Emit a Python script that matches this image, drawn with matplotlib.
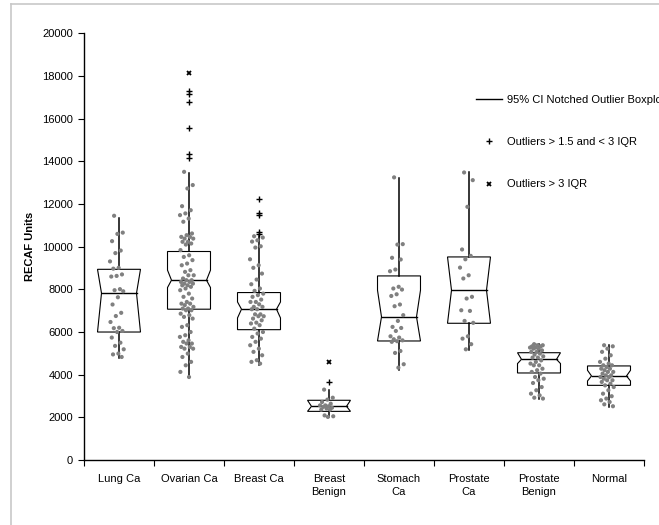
import matplotlib
matplotlib.use("Agg")
import matplotlib.pyplot as plt
from matplotlib.lines import Line2D
from matplotlib.patches import Polygon
import numpy as np

plt.rcParams['font.family'] = ['Liberation Sans', 'DejaVu Sans']

categories = ["Lung Ca", "Ovarian Ca", "Breast Ca", "Breast\nBenign", "Stomach\nCa",
              "Prostate\nCa", "Prostate\nBenign", "Normal"]

# box statistics
q1 = [6000, 7070, 6110, 2280, 5580, 6410, 4080, 3500]
median = [7820, 8430, 7070, 2515, 6710, 7960, 4720, 3940]
q3 = [8940, 9775, 7850, 2800, 8630, 9520, 5030, 4410]
notch_lo = [6000, 8085, 6660, 2280, 5580, 6410, 4520, 3705]
notch_hi = [8940, 8900, 7410, 2800, 7960, 9520, 5030, 4205]
whisker_lo = [4770, 3850, 4470, 2020, 4240, 5150, 2850, 2490]
whisker_hi = [11350, 13460, 10490, 3300, 13200, 13480, 5430, 5380]

# outliers
mild_outliers = [[], [14140, 14330, 15550, 16770, 17140, 17310],
                 [10590, 10670, 11480, 11600, 12230], [3650], [], [], [], []]
extreme_outliers = [[], [18150], [], [4580], [], [], [], []]

# individual points
lung = [11450, 10660, 10600, 10260, 9820, 9700, 9310, 9010, 8970, 8700, 8630, 8600,
        8010, 7960, 7910, 7630, 7290, 6900, 6750, 6470, 6200, 6180, 6050, 6000,
        5740, 5500, 5350, 5190, 4990, 4950, 4830]
ovarian = [13510, 12890, 12730, 11900, 11710, 11560, 11480, 11320, 11170, 10620,
           10540, 10460, 10460, 10380, 10380, 10230, 10230, 10150, 10100, 9840, 9600,
           9520, 9370, 9210, 9130, 8900, 8820, 8660, 8660, 8510, 8430, 8430, 8350,
           8350, 8270, 8270, 8190, 8190, 8120, 8040, 7960, 7800, 7650, 7570, 7410,
           7330, 7330, 7260, 7180, 7100, 7100, 7020, 7020, 6860, 6790, 6710, 6630,
           6320, 6240, 6000, 5850, 5770, 5610, 5540, 5460, 5460, 5300, 5300, 5220,
           5220, 4990, 4830, 4600, 4440, 4130, 3890]
breast_ca = [10490, 10430, 10300, 10240, 10020, 9960, 9410, 9130, 9010, 8740, 8460,
             8240, 8040, 7930, 7800, 7730, 7650, 7520, 7410, 7410, 7300, 7180, 7180,
             7070, 7070, 6830, 6830, 6740, 6740, 6630, 6550, 6440, 6400, 6320, 6160,
             6000, 5930, 5770, 5690, 5540, 5380, 5220, 5070, 4910, 4680, 4600, 4520]
breast_benign = [3300, 2920, 2830, 2720, 2640, 2560, 2560, 2520, 2490, 2450, 2410,
                 2360, 2360, 2090, 2050, 2020]
stomach = [13250, 10120, 10100, 9480, 9400, 8930, 8850, 8120, 8040, 7990, 7770, 7690,
           7290, 7210, 6790, 6520, 6240, 6190, 6050, 5800, 5740, 5660, 5610, 5570,
           5540, 5110, 5020, 4490, 4330]
prostate_ca = [13480, 13120, 11870, 9870, 9570, 9410, 9020, 8660, 8510, 7650, 7570,
               7020, 6990, 6520, 6430, 5800, 5690, 5430, 5190]
prostate_benign = [5430, 5380, 5380, 5330, 5330, 5270, 5270, 5220, 5220, 5140, 5070,
                   5070, 4990, 4940, 4860, 4800, 4800, 4670, 4600, 4520, 4440, 4440,
                   4280, 4210, 4130, 4050, 3890, 3810, 3740, 3610, 3420, 3270, 3110,
                   3030, 2920, 2880]
normal = [5380, 5330, 5220, 5070, 4910, 4750, 4600, 4520, 4440, 4440, 4360, 4280,
          4280, 4210, 4130, 4130, 4050, 3970, 3970, 3890, 3890, 3810, 3740, 3740,
          3660, 3580, 3500, 3420, 3270, 3110, 2990, 2880, 2800, 2720, 2610, 2520]
points = [lung, ovarian, breast_ca, breast_benign, stomach, prostate_ca,
          prostate_benign, normal]

yticks = [0, 2000, 4000, 6000, 8000, 10000, 12000, 14000, 16000, 18000, 20000]

W, H = 659, 525
fig = plt.figure(figsize=(W / 100, H / 100), dpi=100)
ax = fig.add_axes([84 / W, (H - 460) / H, 560 / W, (460 - 33.4) / H])

hw = 0.307   # box half width
nw = 0.25    # notch half width
for i in range(len(categories)):
    x = i + 1
    lo = max(q1[i], notch_lo[i])
    hi = min(q3[i], notch_hi[i])
    verts = [(x + hw, q1[i]), (x + hw, lo), (x + nw, median[i]), (x + hw, hi),
             (x + hw, q3[i]), (x - hw, q3[i]), (x - hw, hi), (x - nw, median[i]),
             (x - hw, lo), (x - hw, q1[i])]
    ax.add_patch(Polygon(verts, closed=True, fill=False, edgecolor='black',
                         linewidth=0.8, zorder=2))
    ax.plot([x - nw, x + nw], [median[i], median[i]], color='black', lw=1.0, zorder=2)
    ax.plot([x, x], [q3[i], whisker_hi[i]], color='black', lw=1.1, zorder=2)
    ax.plot([x, x], [whisker_lo[i], q1[i]], color='black', lw=1.1, zorder=2)
    if mild_outliers[i]:
        ax.plot([x] * len(mild_outliers[i]), mild_outliers[i], linestyle='none',
                marker='+', color='black', markersize=4, mew=1.0, zorder=3)
    if extreme_outliers[i]:
        ax.plot([x] * len(extreme_outliers[i]), extreme_outliers[i], linestyle='none',
                marker='x', color='black', markersize=3.5, mew=1.3, zorder=3)
    vals = points[i]
    n = len(vals)
    jitter = np.array([((k * 0.618034 + 0.3) % 1.0) for k in range(n)]) * 0.2 - 0.13
    ax.scatter(x + jitter, vals, s=9, color='#808080', edgecolors='none', zorder=4)

ax.set_xlim(0.5, len(categories) + 0.5)
ax.set_ylim(0, 20000)
ax.set_yticks(yticks)
ax.set_yticklabels([str(v) for v in yticks], fontsize=8)
ax.set_xticks(np.arange(0.5, len(categories) + 1, 1.0))
ax.set_xticklabels([])
ax.set_xticks(np.arange(1, len(categories) + 1), minor=True)
ax.set_xticklabels(categories, minor=True, fontsize=8, linespacing=1.35)
ax.tick_params(axis='x', which='minor', length=0, pad=10)
ax.tick_params(axis='x', which='major', length=4, width=0.8, direction='out')
ax.tick_params(axis='y', length=4, width=0.8, direction='out', pad=4)
for lab in ax.get_xticklabels(minor=True):
    lab.set_verticalalignment('top')
for s in ['top', 'right']:
    ax.spines[s].set_visible(False)
for s in ['left', 'bottom']:
    ax.spines[s].set_linewidth(1.0)
ax.set_ylabel("RECAF Units", fontsize=8, fontweight='bold', labelpad=5)

handles = [Line2D([], [], color='black', lw=1.0),
           Line2D([], [], color='black', linestyle='none', marker='+', markersize=4, mew=1.0),
           Line2D([], [], color='black', linestyle='none', marker='x', markersize=3.5, mew=1.3)]
labels = ["95% CI Notched Outlier Boxplot", "Outliers > 1.5 and < 3 IQR", "Outliers > 3 IQR"]
fig.legend(handles, labels, loc='upper left', bbox_to_anchor=(476 / W, 1 - 95 / H),
           frameon=False, fontsize=8, labelspacing=2.9, handlelength=2.35,
           handletextpad=0.45, borderpad=0, borderaxespad=0)

# outer chart border
fig.add_artist(Line2D([11 / W, 11 / W], [0, 1 - 4 / H], color='#c8c8c8', lw=1.2,
                      transform=fig.transFigure))
fig.add_artist(Line2D([11 / W, 1.0], [1 - 4 / H, 1 - 4 / H], color='#c8c8c8', lw=1.2,
                      transform=fig.transFigure))

fig.savefig("out.png", dpi=100)
